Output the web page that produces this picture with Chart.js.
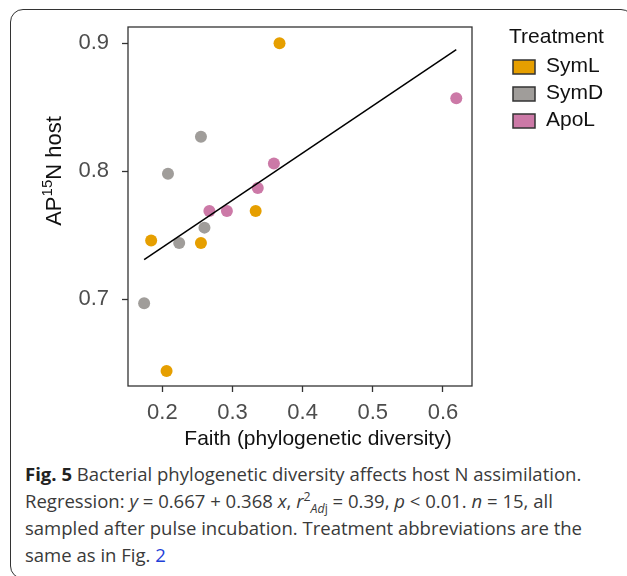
<!DOCTYPE html>
<html>
<head>
<meta charset="utf-8">
<script src="https://cdn.jsdelivr.net/npm/chart.js@4/dist/chart.umd.min.js"></script>
<style>
  html, body { margin: 0; padding: 0; background: #fff; }
  body { width: 627px; height: 576px; position: relative; overflow: hidden; }
  #frame {
    position: absolute; left: 10px; top: 9px; width: 624px; height: 570px;
    border: 1.5px solid #333; border-radius: 13px; box-sizing: border-box;
  }
  #wrap { position: absolute; left: 0; top: 0; width: 627px; height: 455px; }
  #caption {
    position: absolute; left: 25px; top: 461px;
    font-family: "Open Sans", sans-serif; font-size: 18px; line-height: 27px; color: #3a3a3a;
  }
  #caption .line { white-space: nowrap; transform-origin: 0 50%; }
  #caption b { color: #222; }
  #caption sup, #caption sub { font-size: 12px; line-height: 0; }
  #caption a { color: #1f3fd8; text-decoration: none; }
</style>
</head>
<body>
<div id="frame"></div>
<div id="wrap"><canvas id="chart" width="627" height="455"></canvas></div>
<div id="caption">
  <div class="line"><b>Fig. 5</b> Bacterial phylogenetic diversity affects host N assimilation.</div>
  <div class="line">Regression: <i>y</i> = 0.667 + 0.368 <i>x</i>, <i>r</i><sup>2</sup><sub><i>Ad</i>j</sub> = 0.39, <i>p</i> &lt; 0.01. <i>n</i> = 15, all</div>
  <div class="line">sampled after pulse incubation. Treatment abbreviations are the</div>
  <div class="line">same as in Fig. <a>2</a></div>
</div>
<script>
// values
const treatments = ["SymL", "SymD", "ApoL"];
const colors = ["#E69F00", "#A09D9A", "#CC79A7"];

const symLX = [0.367, 0.333, 0.184, 0.255, 0.206];
const symLY = [0.900, 0.769, 0.746, 0.744, 0.644];
const symDX = [0.255, 0.208, 0.260, 0.224, 0.174];
const symDY = [0.827, 0.798, 0.756, 0.744, 0.697];
const apoLX = [0.359, 0.336, 0.267, 0.292, 0.619];
const apoLY = [0.806, 0.787, 0.769, 0.769, 0.857];

// regression line end points (y = 0.667 + 0.368 x)
const fitX = [0.174, 0.619];
const fitY = [0.731, 0.895];

const xTicks = [0.2, 0.3, 0.4, 0.5, 0.6];
const yTicks = [0.7, 0.8, 0.9];

const FONT = "'Liberation Sans', Arial, sans-serif";

function pts(xs, ys) {
  return xs.map((x, i) => ({ x: x, y: ys[i] }));
}

const frame = {
  id: "panelFrame",
  afterDraw(chart) {
    const { ctx, chartArea: a } = chart;
    ctx.save();
    ctx.strokeStyle = "#333";
    ctx.lineWidth = 1.3;
    ctx.strokeRect(a.left, a.top, a.right - a.left, a.bottom - a.top);
    ctx.restore();
  },
};

const titles = {
  id: "axisTitles",
  afterDraw(chart) {
    const ctx = chart.ctx;
    ctx.save();
    ctx.fillStyle = "#111";
    ctx.font = "21px " + FONT;
    ctx.textAlign = "center";
    ctx.textBaseline = "alphabetic";
    ctx.fillText("Faith (phylogenetic diversity)", 318, 445);

    // y title with superscript, rotated
    ctx.translate(61, 171);
    ctx.rotate(-Math.PI / 2);
    ctx.textAlign = "left";
    const big = "22px " + FONT, small = "15px " + FONT;
    ctx.font = big;
    const wA = ctx.measureText("AP").width;
    const wN = ctx.measureText("N host").width;
    ctx.font = small;
    const wS = ctx.measureText("15").width;
    let x = -(wA + wS + wN) / 2;
    ctx.font = big;
    ctx.fillText("AP", x, 0);
    x += wA;
    ctx.font = small;
    ctx.fillText("15", x, -9);
    x += wS;
    ctx.font = big;
    ctx.fillText("N host", x, 0);
    ctx.restore();
  },
};

const legendBox = {
  id: "treatLegend",
  afterDraw(chart) {
    const ctx = chart.ctx;
    ctx.save();
    ctx.fillStyle = "#111";
    ctx.font = "21px " + FONT;
    ctx.textBaseline = "alphabetic";
    ctx.fillText("Treatment", 509, 43);
    treatments.forEach((t, i) => {
      const y = 60 + i * 27;
      ctx.fillStyle = colors[i];
      ctx.fillRect(513, y, 22, 14);
      ctx.strokeStyle = "#333";
      ctx.lineWidth = 1.5;
      ctx.strokeRect(513, y, 22, 14);
      ctx.fillStyle = "#111";
      ctx.textBaseline = "middle";
      ctx.fillText(t, 546, y + 6);
    });
    ctx.restore();
  },
};

Chart.defaults.font.family = FONT;

new Chart(document.getElementById("chart"), {
  type: "scatter",
  data: {
    datasets: [
      {
        type: "line",
        label: "fit",
        data: pts(fitX, fitY),
        borderColor: "#000",
        borderWidth: 1.5,
        pointRadius: 0,
        fill: false,
        order: 0,
      },
      { label: treatments[0], data: pts(symLX, symLY), backgroundColor: colors[0], pointRadius: 6, borderWidth: 0, order: 1 },
      { label: treatments[1], data: pts(symDX, symDY), backgroundColor: colors[1], pointRadius: 6, borderWidth: 0, order: 1 },
      { label: treatments[2], data: pts(apoLX, apoLY), backgroundColor: colors[2], pointRadius: 6, borderWidth: 0, order: 1 },
    ],
  },
  options: {
    responsive: false,
    animation: false,
    layout: { padding: { left: 0, top: 27, right: 155, bottom: 0 } },
    plugins: {
      legend: { display: false },
      tooltip: { enabled: false },
    },
    scales: {
      x: {
        type: "linear",
        min: 0.151,
        max: 0.6414,
        afterBuildTicks: (s) => { s.ticks = xTicks.map((v) => ({ value: v })); },
        afterFit: (s) => { s.height = 69; },
        ticks: {
          color: "#4D4D4D",
          font: { size: 22 },
          padding: 8,
          maxRotation: 0,
          callback: (v) => v.toFixed(1),
        },
        grid: { drawOnChartArea: false, drawTicks: true, tickLength: 6, tickColor: "#333", tickWidth: 1.3 },
        border: { display: false },
      },
      y: {
        type: "linear",
        min: 0.6323,
        max: 0.9127,
        afterBuildTicks: (s) => { s.ticks = yTicks.map((v) => ({ value: v })); },
        afterFit: (s) => { s.width = 128; },
        ticks: {
          color: "#4D4D4D",
          font: { size: 22 },
          padding: 13,
          callback: (v) => v.toFixed(1),
        },
        grid: { drawOnChartArea: false, drawTicks: true, tickLength: 6, tickColor: "#333", tickWidth: 1.3 },
        border: { display: false },
      },
    },
  },
  plugins: [frame, titles, legendBox],
});

// squeeze the caption so the first line spans like the original
const lines = document.querySelectorAll("#caption .line");
const w0 = lines[0].getBoundingClientRect().width;
const sx = 557 / w0;
lines.forEach((l) => { l.style.transform = "scaleX(" + sx + ")"; });
</script>
</body>
</html>
